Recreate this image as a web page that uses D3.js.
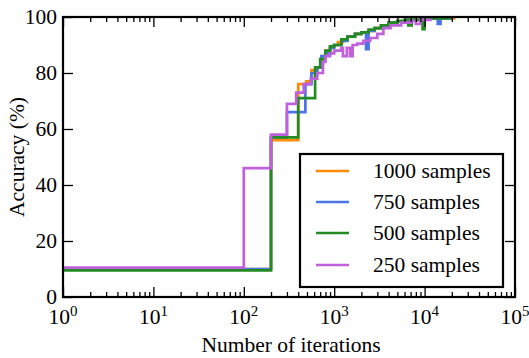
<!DOCTYPE html>
<html><head><meta charset="utf-8">
<script src="https://cdn.jsdelivr.net/npm/d3@7"></script>
</head>
<body style="margin:0;background:#fff">
<svg id="c" width="529" height="358" style="display:block"></svg>
<script>
const seriesNames = ["1000 samples","750 samples","500 samples","250 samples"];
const seriesColors = ["#ff8c00","#4a74e8","#228b22","#c060dc"];

const iters1000 = [1,200,400,490,560,650,750,800,900,1000,1100,1250,1400,1700,2000,2400,2800,3300,4000,5000,6500,9000,14000,22000];
const acc1000   = [10,56,76,77,81,82,86,88,89.5,90,91,92,93,94,94.5,95,96,97,98,98.5,99,99.5,99.5,99.5];

const iters750 = [1,200,300,480,560,650,720,800,900,1000,1200,1400,1700,2000,2250,2400,2800,3300,4000,5000,6500,9000,14000,15000,20000];
const acc750   = [10,57,66,76,80,82,86,87,89,90,91.5,93,94,94.5,88.5,95,96,97,98,98.5,99,99.5,97.5,99.5,99.5];

const iters500 = [1,200,400,615,700,800,900,1000,1200,1400,1700,2000,2400,2800,3300,4000,5000,6000,6600,7200,9000,9500,10000,20000];
const acc500   = [9.5,57,71,82,85,88,89.5,90,92,93,94,94.5,95.5,96,97,98,98.5,99,97,99,99.5,95.7,99.5,99.5];

const iters250 = [1,100,200,300,380,460,550,650,750,800,900,1000,1200,1250,1380,1500,1600,1800,2100,2500,3000,3500,4200,5500,7000,8000,9000,12000];
const acc250   = [10.5,46,58,69,73,76,78,80,84,86,87,88,89,86,89,86,90,90.5,91.5,92.5,94,96,97,98,98.5,97.5,99,99];

const xMajor = [1,10,100,1000,10000,100000];
const xExp = ["0","1","2","3","4","5"];
const yTicks = [0,20,40,60,80,100];

const FONT = '"Liberation Serif"';
const FS = 21.5;
const svg = d3.select("#c");
const L=63,R=515,T=17,B=297;
const x = d3.scaleLog().domain([1,1e5]).range([L,R]);
const y = d3.scaleLinear().domain([0,100]).range([B,T]);

const xMinor = [];
for (let d=1; d<1e5; d*=10) for (let k=2;k<=9;k++) xMinor.push(d*k);

const data = [
  {it:iters1000, ac:acc1000},
  {it:iters750, ac:acc750},
  {it:iters500, ac:acc500},
  {it:iters250, ac:acc250}
];
svg.append("clipPath").attr("id","cp").append("rect")
  .attr("x",L).attr("y",T-2).attr("width",R-L).attr("height",B-T+2);
const line = d3.line().curve(d3.curveStepAfter).x(d=>x(d[0])).y(d=>y(d[1]));
const gl = svg.append("g").attr("clip-path","url(#cp)");
data.forEach((s,i)=>{
  gl.append("path").datum(s.it.map((v,j)=>[v,s.ac[j]]))
    .attr("d",line).attr("fill","none").attr("stroke",seriesColors[i])
    .attr("stroke-width",2.7).attr("stroke-linejoin","miter");
});

function styleAxis(g){ g.select(".domain").remove(); g.selectAll("line").attr("stroke","#000").attr("stroke-width",1.3); g.selectAll("text").remove(); }
svg.append("g").attr("transform",`translate(0,${B})`).call(d3.axisBottom(x).tickValues(xMajor).tickSize(-10).tickFormat("")).call(styleAxis);
svg.append("g").attr("transform",`translate(0,${B})`).call(d3.axisBottom(x).tickValues(xMinor).tickSize(-5).tickFormat("")).call(styleAxis);
svg.append("g").attr("transform",`translate(0,${T})`).call(d3.axisTop(x).tickValues(xMajor).tickSize(-10).tickFormat("")).call(styleAxis);
svg.append("g").attr("transform",`translate(0,${T})`).call(d3.axisTop(x).tickValues(xMinor).tickSize(-5).tickFormat("")).call(styleAxis);
svg.append("g").attr("transform",`translate(${L},0)`).call(d3.axisLeft(y).tickValues(yTicks).tickSize(-10).tickFormat("")).call(styleAxis);
svg.append("g").attr("transform",`translate(${R},0)`).call(d3.axisRight(y).tickValues(yTicks).tickSize(-10).tickFormat("")).call(styleAxis);

svg.append("rect").attr("x",L).attr("y",T).attr("width",R-L).attr("height",B-T)
  .attr("fill","none").attr("stroke","#000").attr("stroke-width",2.2);

svg.append("g").selectAll("text").data(yTicks).join("text")
  .attr("x",L-6).attr("y",d=>y(d)+7).attr("text-anchor","end").style("font-family",FONT)
  .attr("font-size",FS).attr("fill","#000").text(d=>d);
const xl = svg.append("g").selectAll("text").data(xMajor).join("text")
  .attr("x",d=>x(d)).attr("y",324).attr("text-anchor","middle").style("font-family",FONT)
  .attr("font-size",FS).attr("fill","#000");
xl.append("tspan").text("10");
xl.append("tspan").attr("dy",-8).attr("font-size",15).text((d,i)=>xExp[i]);

svg.append("text").attr("x",(L+R)/2+2).attr("y",352).attr("text-anchor","middle").style("font-family",FONT)
  .attr("font-size",FS).attr("fill","#000").text("Number of iterations");
svg.append("text").attr("transform",`translate(24,${(T+B)/2}) rotate(-90)`).style("font-family",FONT)
  .attr("text-anchor","middle").attr("font-size",FS).attr("fill","#000").text("Accuracy (%)");

const lg = svg.append("g");
lg.append("rect").attr("x",300).attr("y",154).attr("width",203).attr("height",133)
  .attr("fill","#fff").attr("stroke","#000").attr("stroke-width",2.2);
const rows = [171,202,233,265];
seriesNames.forEach((n,i)=>{
  lg.append("line").attr("x1",316).attr("x2",349).attr("y1",rows[i]).attr("y2",rows[i])
    .attr("stroke",seriesColors[i]).attr("stroke-width",2.7);
  lg.append("text").attr("x",373).attr("y",rows[i]+7).style("font-family",FONT).attr("font-size",FS).attr("fill","#000").text(n);
});
</script>
</body></html>
